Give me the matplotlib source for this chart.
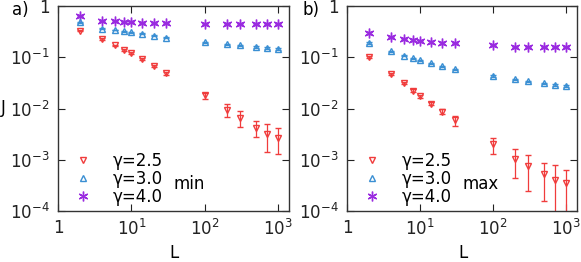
import numpy as np
import matplotlib.pyplot as plt
from matplotlib.lines import Line2D

L = [2, 4, 6, 8, 10, 14, 20, 30, 100, 200, 300, 500, 700, 1000]
labels = ['γ=2.5', 'γ=3.0', 'γ=4.0']

# min
min_25 = [0.33, 0.225, 0.17, 0.138, 0.12, 0.092, 0.068, 0.049, 0.018, 0.0095, 0.0066, 0.0042, 0.0032, 0.0027]
min_25_err = [0.01, 0.008, 0.006, 0.005, 0.005, 0.004, 0.003, 0.003, 0.0025, 0.0027, 0.0023, 0.0014, 0.0018, 0.0014]
min_30 = [0.48, 0.36, 0.34, 0.32, 0.31, 0.286, 0.265, 0.24, 0.197, 0.18, 0.17, 0.158, 0.15, 0.146]
min_30_err = [0.01, 0.008, 0.007, 0.006, 0.006, 0.006, 0.005, 0.005, 0.005, 0.005, 0.005, 0.005, 0.005, 0.005]
min_40 = [0.65, 0.52, 0.50, 0.49, 0.49, 0.475, 0.465, 0.46, 0.447, 0.447, 0.447, 0.447, 0.447, 0.447]
min_40_err = [0.02, 0.01, 0.01, 0.01, 0.01, 0.01, 0.01, 0.01, 0.01, 0.01, 0.01, 0.01, 0.01, 0.01]

# max
max_25 = [0.10, 0.048, 0.031, 0.0224, 0.0174, 0.0125, 0.0087, 0.0059, 0.002, 0.00105, 0.00075, 0.00052, 0.00041, 0.00035]
max_25_err = [0.004, 0.002, 0.0015, 0.0012, 0.0012, 0.001, 0.0009, 0.0013, 0.0007, 0.0006, 0.0005, 0.00036, 0.00037, 0.00028]
max_30 = [0.19, 0.13, 0.107, 0.095, 0.087, 0.076, 0.066, 0.058, 0.043, 0.037, 0.034, 0.031, 0.029, 0.0275]
max_30_err = [0.005, 0.004, 0.003, 0.003, 0.003, 0.002, 0.002, 0.002, 0.0015, 0.0012, 0.001, 0.001, 0.001, 0.001]
max_40 = [0.295, 0.246, 0.229, 0.216, 0.21, 0.20, 0.19, 0.186, 0.172, 0.162, 0.162, 0.162, 0.162, 0.162]
max_40_err = [0.01, 0.008, 0.007, 0.007, 0.007, 0.006, 0.006, 0.006, 0.005, 0.005, 0.005, 0.005, 0.005, 0.005]

colors = ['#f03c3c', '#3a8fd3', '#9a2be0']
markers = ['v', '^', '*']

fig = plt.figure(figsize=(5.81, 2.62), dpi=100)
ax1 = fig.add_axes([58 / 581, 51 / 262, 231 / 581, 205 / 262])
ax2 = fig.add_axes([347 / 581, 51 / 262, 230 / 581, 205 / 262])

panels = [
    (ax1, [min_25, min_30, min_40], [min_25_err, min_30_err, min_40_err], 'min'),
    (ax2, [max_25, max_30, max_40], [max_25_err, max_30_err, max_40_err], 'max'),
]

for ax, ys, errs, word in panels:
    handles = []
    for y, e, c, m, lab in zip(ys, errs, colors, markers, labels):
        if m == '*':
            ax.errorbar(L, y, yerr=e, fmt='none', ecolor=c, elinewidth=0.9, capsize=2.5)
            ax.plot(L, y, linestyle='none', marker=(6, 2, 0), color=c, markersize=7, mew=1.0)
            ax.plot(L, y, linestyle='none', marker='o', color=c, markersize=2)
            h = Line2D([], [], linestyle='none', marker=(6, 2, 0), color=c, markersize=7, mew=1.0)
        else:
            ax.errorbar(L, y, yerr=e, fmt=m, mfc='none', mec=c, mew=1.0, markersize=5,
                        ecolor=c, elinewidth=0.9, capsize=2.5)
            h = Line2D([], [], linestyle='none', marker=m, mfc='none', mec=c, mew=1.0, markersize=5)
        handles.append(h)
    ax.set_xscale('log')
    ax.set_yscale('log')
    ax.set_xlim(1, 1400)
    ax.set_ylim(1e-4, 1)
    ax.set_xticks([1, 10, 100, 1000])
    ax.set_xticklabels(['1', '$10^{1}$', '$10^{2}$', '$10^{3}$'])
    ax.set_yticks([1e-4, 1e-3, 1e-2, 1e-1, 1])
    ax.set_yticklabels(['$10^{-4}$', '$10^{-3}$', '$10^{-2}$', '$10^{-1}$', '1'])
    ax.minorticks_off()
    ax.tick_params(direction='in', top=True, right=True, length=5, width=0.8,
                   labelsize=12, pad=6, colors='#222222')
    for s in ax.spines.values():
        s.set_linewidth(1.0)
        s.set_color('#333333')
    ax.legend(handles=handles, labels=labels, loc='lower left', bbox_to_anchor=(0.05, 0.0),
              frameon=False, fontsize=12, handlelength=1.0, handletextpad=1.3,
              labelspacing=0.0, borderaxespad=0.2, borderpad=0.1)
    ax.text(0.5, 0.13, word, transform=ax.transAxes, fontsize=12, ha='left', va='center')

fig.text(12 / 581, 1 - 10 / 262, 'a)', fontsize=12, ha='left', va='center')
fig.text(302 / 581, 1 - 10 / 262, 'b)', fontsize=12, ha='left', va='center')
fig.text(1 / 581, 1 - 108 / 262, 'J', fontsize=12, ha='left', va='center')
fig.text(174 / 581, 1 - 253 / 262, 'L', fontsize=12, ha='center', va='center')
fig.text(463 / 581, 1 - 253 / 262, 'L', fontsize=12, ha='center', va='center')

fig.savefig('out.png', dpi=100)
